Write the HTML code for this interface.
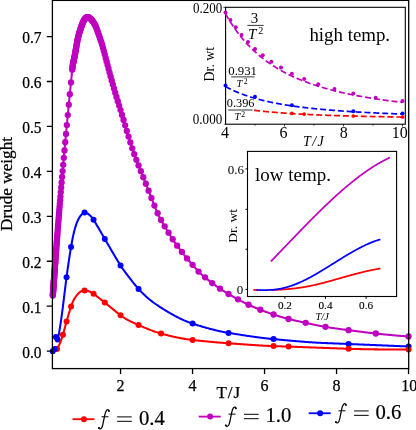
<!DOCTYPE html><html><head><meta charset="utf-8"><style>html,body{margin:0;padding:0;background:#fff}svg{display:block;will-change:transform}</style></head><body><svg width="416" height="430" viewBox="0 0 416 430">
<rect width="416" height="430" fill="#fff"/>
<path d="M52.80,295.60 L53.39,287.54 L53.99,279.48 L54.58,271.43 L55.18,263.40 L55.77,255.46 L56.36,247.67 L56.96,239.94 L57.55,232.28 L58.15,224.72 L58.74,217.27 L59.34,209.90 L59.93,202.60 L60.52,195.41 L61.12,188.38 L61.71,181.47 L62.31,174.67 L62.90,167.95 L63.49,161.28 L64.09,154.68 L64.68,148.15 L65.28,141.69 L65.87,135.31 L66.47,128.99 L67.06,122.73 L67.65,116.50 L68.25,110.30 L68.84,104.18 L69.44,98.13 L70.03,92.08 L70.62,86.04 L71.22,79.99 L71.81,73.94 L72.41,68.04 L73.00,63.83 L73.60,60.97 L74.19,58.51 L74.78,55.52 L75.38,52.11 L75.97,48.68 L76.57,45.27 L77.16,41.92 L77.75,38.86 L78.35,36.28 L78.94,34.07 L79.54,32.10 L80.13,30.24 L80.73,28.40 L81.32,26.63 L81.91,24.98 L82.51,23.45 L83.10,22.07 L83.70,20.86 L84.29,19.81 L84.88,18.94 L85.48,18.24 L86.07,17.71 L86.67,17.36 L87.26,17.19 L87.86,17.21 L88.45,17.36 L89.04,17.60 L89.64,17.94 L90.23,18.38 L90.83,18.93 L91.42,19.58 L92.01,20.34 L92.61,21.18 L93.20,22.03 L93.80,22.91 L94.39,23.85 L94.99,24.90 L95.58,26.09 L96.17,27.45 L96.77,29.01 L97.36,30.70 L97.96,32.40 L98.55,34.10 L99.14,35.80 L99.74,37.50 L100.33,39.20 L100.93,40.91 L101.52,42.67 L102.12,44.63 L102.71,46.74 L103.30,48.96 L103.90,51.20 L104.49,53.41 L105.09,55.63 L105.68,57.86 L106.27,60.11 L106.87,62.37 L107.46,64.63 L108.06,66.89 L108.65,69.14 L109.24,71.37 L109.84,73.58 L110.43,75.76 L111.03,77.92 L111.62,80.07 L112.22,82.21 L112.81,84.33 L113.40,86.44 L114.00,88.53 L114.59,90.60 L115.19,92.65 L115.78,94.66 L116.37,96.65 L116.97,98.60 L117.56,100.52 L118.16,102.43 L118.75,104.33 L119.35,106.23 L119.94,108.13 L120.53,110.04 L121.13,111.98 L121.72,113.92 L122.32,115.89 L122.91,117.86 L123.50,119.84 L124.10,121.82 L124.69,123.81 L125.29,125.80 L125.88,127.79 L126.48,129.77 L127.07,131.75 L127.66,133.71 L128.26,135.67 L128.85,137.61 L129.45,139.53 L130.04,141.43 L130.63,143.31 L131.23,145.17 L131.82,147.00 L132.42,148.80 L133.01,150.57 L133.61,152.30 L134.20,154.00 L134.79,155.66 L135.39,157.27 L135.98,158.86 L136.58,160.42 L137.17,161.95 L137.76,163.45 L138.36,164.95 L138.95,166.43 L139.55,167.90 L140.14,169.37 L140.74,170.83 L141.33,172.30 L141.92,173.78 L142.52,175.28 L143.11,176.79 L143.71,178.30 L144.30,179.82 L144.89,181.33 L145.49,182.85 L146.08,184.37 L146.68,185.88 L147.27,187.40 L147.87,188.91 L148.46,190.43 L149.05,191.94 L149.65,193.46 L150.24,194.97 L150.84,196.48 L151.43,197.99 L152.02,199.50 L152.62,201.01 L153.21,202.52 L153.81,204.03 L154.40,205.53 L154.99,207.03 L155.59,208.52 L156.18,209.95 L156.78,211.33 L157.37,212.66 L157.97,213.94 L158.56,215.19 L159.15,216.39 L159.75,217.56 L160.34,218.70 L160.94,219.81 L161.53,220.89 L162.12,221.95 L162.72,222.99 L163.31,224.01 L163.91,225.02 L164.50,226.01 L165.10,227.00 L165.69,227.99 L166.28,228.97 L166.88,229.95 L167.47,230.93 L168.07,231.90 L168.66,232.88 L169.25,233.84 L169.85,234.80 L170.44,235.75 L171.04,236.69 L171.63,237.63 L172.23,238.55 L172.82,239.46 L173.41,240.37 L174.01,241.25 L174.60,242.13 L175.20,242.99 L175.79,243.83 L176.38,244.66 L176.98,245.47 L177.57,246.27 L178.17,247.07 L178.76,247.86 L179.36,248.65 L179.95,249.43 L180.54,250.21 L181.14,250.99 L181.73,251.76 L182.33,252.52 L182.92,253.29 L183.51,254.06 L184.11,254.82 L184.70,255.59 L185.30,256.34 L185.89,257.09 L186.49,257.82 L187.08,258.54 L187.67,259.24 L188.27,259.93 L188.86,260.62 L189.46,261.30 L190.05,261.98 L190.64,262.65 L191.24,263.33 L191.83,264.00 L192.43,264.68 L193.02,265.35 L193.62,266.03 L194.21,266.71 L194.80,267.39 L195.40,268.06 L195.99,268.73 L196.59,269.40 L197.18,270.06 L197.77,270.72 L198.37,271.37 L198.96,271.99 L199.56,272.59 L200.15,273.16 L200.75,273.70 L201.34,274.23 L201.93,274.74 L202.53,275.24 L203.12,275.74 L203.72,276.22 L204.31,276.71 L204.90,277.20 L205.50,277.70 L206.09,278.19 L206.69,278.68 L207.28,279.17 L207.87,279.66 L208.47,280.14 L209.06,280.62 L209.66,281.10 L210.25,281.57 L210.85,282.04 L211.44,282.50 L212.03,282.96 L212.63,283.41 L213.22,283.86 L213.82,284.30 L214.41,284.75 L215.00,285.18 L215.60,285.62 L216.19,286.05 L216.79,286.47 L217.38,286.89 L217.98,287.30 L218.57,287.71 L219.16,288.11 L219.76,288.50 L220.35,288.90 L220.95,289.28 L221.54,289.67 L222.13,290.05 L222.73,290.43 L223.32,290.81 L223.92,291.18 L224.51,291.55 L225.11,291.92 L225.70,292.29 L226.29,292.65 L226.89,293.01 L227.48,293.36 L228.08,293.72 L228.67,294.07 L229.26,294.41 L229.86,294.76 L230.45,295.10 L231.05,295.45 L231.64,295.79 L232.24,296.13 L232.83,296.47 L233.42,296.80 L234.02,297.14 L234.61,297.47 L235.21,297.80 L235.80,298.13 L236.39,298.46 L236.99,298.79 L237.58,299.12 L238.18,299.44 L238.77,299.77 L239.37,300.09 L239.96,300.41 L240.55,300.72 L241.15,301.04 L241.74,301.35 L242.34,301.67 L242.93,301.98 L243.52,302.28 L244.12,302.59 L244.71,302.89 L245.31,303.19 L245.90,303.49 L246.50,303.78 L247.09,304.07 L247.68,304.36 L248.28,304.64 L248.87,304.92 L249.47,305.20 L250.06,305.47 L250.65,305.74 L251.25,306.01 L251.84,306.27 L252.44,306.53 L253.03,306.79 L253.63,307.04 L254.22,307.29 L254.81,307.54 L255.41,307.79 L256.00,308.03 L256.60,308.28 L257.19,308.52 L257.78,308.75 L258.38,308.99 L258.97,309.22 L259.57,309.45 L260.16,309.68 L260.75,309.91 L261.35,310.14 L261.94,310.37 L262.54,310.59 L263.13,310.82 L263.73,311.04 L264.32,311.26 L264.91,311.48 L265.51,311.70 L266.10,311.92 L266.70,312.14 L267.29,312.35 L267.88,312.56 L268.48,312.78 L269.07,312.99 L269.67,313.19 L270.26,313.40 L270.86,313.61 L271.45,313.81 L272.04,314.01 L272.64,314.21 L273.23,314.41 L273.83,314.61 L274.42,314.80 L275.01,315.00 L275.61,315.19 L276.20,315.39 L276.80,315.58 L277.39,315.77 L277.99,315.96 L278.58,316.15 L279.17,316.34 L279.77,316.52 L280.36,316.70 L280.96,316.89 L281.55,317.06 L282.14,317.24 L282.74,317.42 L283.33,317.59 L283.93,317.76 L284.52,317.93 L285.12,318.09 L285.71,318.25 L286.30,318.41 L286.90,318.57 L287.49,318.72 L288.09,318.87 L288.68,319.02 L289.27,319.16 L289.87,319.31 L290.46,319.45 L291.06,319.59 L291.65,319.73 L292.25,319.87 L292.84,320.01 L293.43,320.15 L294.03,320.29 L294.62,320.42 L295.22,320.56 L295.81,320.70 L296.40,320.83 L297.00,320.96 L297.59,321.10 L298.19,321.23 L298.78,321.36 L299.38,321.49 L299.97,321.62 L300.56,321.75 L301.16,321.88 L301.75,322.01 L302.35,322.14 L302.94,322.27 L303.53,322.40 L304.13,322.53 L304.72,322.65 L305.32,322.78 L305.91,322.91 L306.51,323.04 L307.10,323.17 L307.69,323.29 L308.29,323.42 L308.88,323.55 L309.48,323.68 L310.07,323.81 L310.66,323.94 L311.26,324.06 L311.85,324.19 L312.45,324.32 L313.04,324.45 L313.63,324.57 L314.23,324.70 L314.82,324.82 L315.42,324.95 L316.01,325.07 L316.61,325.19 L317.20,325.32 L317.79,325.44 L318.39,325.56 L318.98,325.67 L319.58,325.79 L320.17,325.91 L320.76,326.02 L321.36,326.13 L321.95,326.24 L322.55,326.35 L323.14,326.46 L323.74,326.57 L324.33,326.67 L324.92,326.77 L325.52,326.87 L326.11,326.97 L326.71,327.07 L327.30,327.17 L327.89,327.26 L328.49,327.36 L329.08,327.45 L329.68,327.55 L330.27,327.64 L330.87,327.73 L331.46,327.82 L332.05,327.91 L332.65,328.00 L333.24,328.08 L333.84,328.17 L334.43,328.26 L335.02,328.34 L335.62,328.43 L336.21,328.51 L336.81,328.59 L337.40,328.67 L338.00,328.76 L338.59,328.84 L339.18,328.92 L339.78,329.00 L340.37,329.08 L340.97,329.16 L341.56,329.24 L342.15,329.32 L342.75,329.40 L343.34,329.47 L343.94,329.55 L344.53,329.63 L345.13,329.71 L345.72,329.79 L346.31,329.86 L346.91,329.94 L347.50,330.02 L348.10,330.10 L348.69,330.17 L349.28,330.25 L349.88,330.33 L350.47,330.41 L351.07,330.48 L351.66,330.56 L352.26,330.64 L352.85,330.71 L353.44,330.79 L354.04,330.87 L354.63,330.95 L355.23,331.02 L355.82,331.10 L356.41,331.17 L357.01,331.25 L357.60,331.33 L358.20,331.40 L358.79,331.48 L359.38,331.55 L359.98,331.63 L360.57,331.70 L361.17,331.78 L361.76,331.85 L362.36,331.93 L362.95,332.00 L363.54,332.08 L364.14,332.15 L364.73,332.22 L365.33,332.30 L365.92,332.37 L366.51,332.44 L367.11,332.51 L367.70,332.58 L368.30,332.66 L368.89,332.73 L369.49,332.80 L370.08,332.87 L370.67,332.94 L371.27,333.01 L371.86,333.08 L372.46,333.14 L373.05,333.21 L373.64,333.28 L374.24,333.35 L374.83,333.41 L375.43,333.48 L376.02,333.55 L376.62,333.61 L377.21,333.68 L377.80,333.74 L378.40,333.81 L378.99,333.87 L379.59,333.93 L380.18,333.99 L380.77,334.06 L381.37,334.12 L381.96,334.18 L382.56,334.24 L383.15,334.30 L383.75,334.36 L384.34,334.42 L384.93,334.48 L385.53,334.53 L386.12,334.59 L386.72,334.65 L387.31,334.71 L387.90,334.76 L388.50,334.82 L389.09,334.87 L389.69,334.93 L390.28,334.98 L390.88,335.04 L391.47,335.09 L392.06,335.15 L392.66,335.20 L393.25,335.25 L393.85,335.30 L394.44,335.36 L395.03,335.41 L395.63,335.46 L396.22,335.51 L396.82,335.56 L397.41,335.61 L398.01,335.66 L398.60,335.71 L399.19,335.76 L399.79,335.81 L400.38,335.86 L400.98,335.90 L401.57,335.95 L402.16,336.00 L402.76,336.05 L403.35,336.09 L403.95,336.14 L404.54,336.18 L405.14,336.23 L405.73,336.28 L406.32,336.32 L406.92,336.37 L407.51,336.41 L408.11,336.46 L408.70,336.50" fill="none" stroke="#bf00bf" stroke-width="2.05" stroke-linejoin="round"/>
<g fill="#bf00bf"><circle cx="408.55" cy="336.49" r="3.15"/><circle cx="375.82" cy="333.52" r="3.15"/><circle cx="348.55" cy="330.15" r="3.15"/><circle cx="325.47" cy="326.87" r="3.15"/><circle cx="305.69" cy="322.86" r="3.15"/><circle cx="288.55" cy="318.99" r="3.15"/><circle cx="273.55" cy="314.52" r="3.15"/><circle cx="260.31" cy="309.74" r="3.15"/><circle cx="248.55" cy="304.77" r="3.15"/><circle cx="238.02" cy="299.36" r="3.15"/><circle cx="228.55" cy="293.99" r="3.15"/><circle cx="219.98" cy="288.65" r="3.15"/><circle cx="212.19" cy="283.07" r="3.15"/><circle cx="205.07" cy="277.34" r="3.15"/><circle cx="198.55" cy="271.56" r="3.15"/><circle cx="192.55" cy="264.82" r="3.15"/><circle cx="187.01" cy="258.46" r="3.15"/><circle cx="181.88" cy="251.95" r="3.15"/><circle cx="177.12" cy="245.66" r="3.15"/><circle cx="172.69" cy="239.26" r="3.15"/><circle cx="168.55" cy="232.69" r="3.15"/><circle cx="164.68" cy="226.31" r="3.15"/><circle cx="161.05" cy="220.02" r="3.15"/><circle cx="157.64" cy="213.25" r="3.15"/><circle cx="154.43" cy="205.61" r="3.15"/><circle cx="151.41" cy="197.93" r="3.15"/><circle cx="148.55" cy="190.66" r="3.15"/><circle cx="145.85" cy="183.77" r="3.15"/><circle cx="143.29" cy="177.23" r="3.15"/><circle cx="140.86" cy="171.13" r="3.15"/><circle cx="138.55" cy="165.43" r="3.15"/><circle cx="136.35" cy="159.84" r="3.15"/><circle cx="134.26" cy="154.18" r="3.15"/><circle cx="132.27" cy="148.36" r="3.15"/><circle cx="130.37" cy="142.47" r="3.15"/><circle cx="128.55" cy="136.62" r="3.15"/><circle cx="126.81" cy="130.89" r="3.15"/><circle cx="125.15" cy="125.33" r="3.15"/><circle cx="123.55" cy="119.99" r="3.15"/><circle cx="122.02" cy="114.90" r="3.15"/><circle cx="120.55" cy="110.10" r="3.15"/><circle cx="119.14" cy="105.56" r="3.15"/><circle cx="117.78" cy="101.22" r="3.15"/><circle cx="116.47" cy="96.98" r="3.15"/><circle cx="115.22" cy="92.75" r="3.15"/><circle cx="114.00" cy="88.56" r="3.15"/><circle cx="112.84" cy="84.42" r="3.15"/><circle cx="111.71" cy="80.38" r="3.15"/><circle cx="110.62" cy="76.43" r="3.15"/><circle cx="109.57" cy="72.57" r="3.15"/><circle cx="108.55" cy="68.76" r="3.15"/><circle cx="107.57" cy="65.03" r="3.15"/><circle cx="106.61" cy="61.41" r="3.15"/><circle cx="105.69" cy="57.91" r="3.15"/><circle cx="104.80" cy="54.56" r="3.15"/><circle cx="103.93" cy="51.34" r="3.15"/><circle cx="103.10" cy="48.18" r="3.15"/><circle cx="102.28" cy="45.21" r="3.15"/><circle cx="101.49" cy="42.58" r="3.15"/><circle cx="100.72" cy="40.32" r="3.15"/><circle cx="99.98" cy="38.18" r="3.15"/><circle cx="99.25" cy="36.11" r="3.15"/><circle cx="98.55" cy="34.10" r="3.15"/><circle cx="97.87" cy="32.14" r="3.15"/><circle cx="97.20" cy="30.24" r="3.15"/><circle cx="96.55" cy="28.41" r="3.15"/><circle cx="95.92" cy="26.84" r="3.15"/><circle cx="95.30" cy="25.52" r="3.15"/><circle cx="94.70" cy="24.39" r="3.15"/><circle cx="94.12" cy="23.41" r="3.15"/><circle cx="93.55" cy="22.53" r="3.15"/><circle cx="92.99" cy="21.73" r="3.15"/><circle cx="92.45" cy="20.96" r="3.15"/><circle cx="91.92" cy="20.22" r="3.15"/><circle cx="91.41" cy="19.56" r="3.15"/><circle cx="90.90" cy="19.01" r="3.15"/><circle cx="90.41" cy="18.54" r="3.15"/><circle cx="89.93" cy="18.15" r="3.15"/><circle cx="89.46" cy="17.83" r="3.15"/><circle cx="89.00" cy="17.58" r="3.15"/><circle cx="88.55" cy="17.39" r="3.15"/><circle cx="88.11" cy="17.26" r="3.15"/><circle cx="87.68" cy="17.19" r="3.15"/><circle cx="87.26" cy="17.19" r="3.15"/><circle cx="86.85" cy="17.29" r="3.15"/><circle cx="86.44" cy="17.47" r="3.15"/><circle cx="86.05" cy="17.73" r="3.15"/><circle cx="85.66" cy="18.05" r="3.15"/><circle cx="85.28" cy="18.45" r="3.15"/><circle cx="84.91" cy="18.90" r="3.15"/><circle cx="84.55" cy="19.41" r="3.15"/><circle cx="84.19" cy="19.97" r="3.15"/><circle cx="83.84" cy="20.58" r="3.15"/><circle cx="83.50" cy="21.24" r="3.15"/><circle cx="83.17" cy="21.93" r="3.15"/><circle cx="82.84" cy="22.67" r="3.15"/><circle cx="82.51" cy="23.44" r="3.15"/><circle cx="82.19" cy="24.24" r="3.15"/><circle cx="81.88" cy="25.06" r="3.15"/><circle cx="81.58" cy="25.90" r="3.15"/><circle cx="81.28" cy="26.75" r="3.15"/><circle cx="80.98" cy="27.62" r="3.15"/><circle cx="80.69" cy="28.50" r="3.15"/><circle cx="80.41" cy="29.39" r="3.15"/><circle cx="80.13" cy="30.25" r="3.15"/><circle cx="79.85" cy="31.10" r="3.15"/><circle cx="79.58" cy="31.95" r="3.15"/><circle cx="79.32" cy="32.80" r="3.15"/><circle cx="79.06" cy="33.67" r="3.15"/><circle cx="78.80" cy="34.57" r="3.15"/><circle cx="78.55" cy="35.50" r="3.15"/><circle cx="78.30" cy="36.47" r="3.15"/><circle cx="78.06" cy="37.49" r="3.15"/><circle cx="77.82" cy="38.56" r="3.15"/><circle cx="77.58" cy="39.69" r="3.15"/><circle cx="77.35" cy="40.88" r="3.15"/><circle cx="77.12" cy="42.14" r="3.15"/><circle cx="76.90" cy="43.40" r="3.15"/><circle cx="76.68" cy="44.65" r="3.15"/><circle cx="76.46" cy="45.90" r="3.15"/><circle cx="76.24" cy="47.13" r="3.15"/><circle cx="76.03" cy="48.34" r="3.15"/><circle cx="75.82" cy="49.55" r="3.15"/><circle cx="75.62" cy="50.73" r="3.15"/><circle cx="75.42" cy="51.90" r="3.15"/><circle cx="75.22" cy="53.04" r="3.15"/><circle cx="75.02" cy="54.17" r="3.15"/><circle cx="74.83" cy="55.27" r="3.15"/><circle cx="74.64" cy="56.35" r="3.15"/><circle cx="74.45" cy="57.32" r="3.15"/><circle cx="74.26" cy="58.18" r="3.15"/><circle cx="74.08" cy="58.96" r="3.15"/><circle cx="73.90" cy="59.71" r="3.15"/><circle cx="73.72" cy="60.43" r="3.15"/><circle cx="73.55" cy="61.16" r="3.15"/><circle cx="73.38" cy="61.92" r="3.15"/><circle cx="73.21" cy="62.73" r="3.15"/><circle cx="73.04" cy="63.62" r="3.15"/><circle cx="72.87" cy="64.59" r="3.15"/><circle cx="72.71" cy="65.66" r="3.15"/><circle cx="72.55" cy="66.86" r="3.15"/><circle cx="72.39" cy="68.18" r="3.15"/><circle cx="72.23" cy="69.66" r="3.15"/><circle cx="70.98" cy="82.40" r="3.15"/><circle cx="69.82" cy="94.20" r="3.15"/><circle cx="68.79" cy="104.70" r="3.15"/><circle cx="67.79" cy="115.10" r="3.15"/><circle cx="66.83" cy="125.10" r="3.15"/><circle cx="66.00" cy="133.90" r="3.15"/><circle cx="65.23" cy="142.20" r="3.15"/><circle cx="64.47" cy="150.50" r="3.15"/><circle cx="63.81" cy="157.80" r="3.15"/><circle cx="63.18" cy="164.80" r="3.15"/><circle cx="62.62" cy="171.10" r="3.15"/><circle cx="62.10" cy="177.00" r="3.15"/><circle cx="61.63" cy="182.40" r="3.15"/><circle cx="61.20" cy="187.40" r="3.15"/><circle cx="60.80" cy="192.10" r="3.15"/><circle cx="60.43" cy="196.50" r="3.15"/><circle cx="60.12" cy="200.30" r="3.15"/><circle cx="59.85" cy="203.60" r="3.15"/><circle cx="59.60" cy="206.60" r="3.15"/><circle cx="59.37" cy="209.51" r="3.15"/><circle cx="59.14" cy="212.33" r="3.15"/><circle cx="58.92" cy="215.07" r="3.15"/><circle cx="58.70" cy="217.73" r="3.15"/><circle cx="58.50" cy="220.30" r="3.15"/><circle cx="58.30" cy="222.80" r="3.15"/><circle cx="58.11" cy="225.23" r="3.15"/><circle cx="57.92" cy="227.58" r="3.15"/><circle cx="57.74" cy="229.86" r="3.15"/><circle cx="57.57" cy="232.07" r="3.15"/><circle cx="57.40" cy="234.22" r="3.15"/><circle cx="57.24" cy="236.30" r="3.15"/><circle cx="57.08" cy="238.32" r="3.15"/><circle cx="56.93" cy="240.27" r="3.15"/><circle cx="56.79" cy="242.17" r="3.15"/><circle cx="56.65" cy="244.02" r="3.15"/><circle cx="56.51" cy="245.80" r="3.15"/><circle cx="56.38" cy="247.54" r="3.15"/><circle cx="56.25" cy="249.22" r="3.15"/><circle cx="56.12" cy="250.85" r="3.15"/><circle cx="56.00" cy="252.43" r="3.15"/><circle cx="55.88" cy="253.97" r="3.15"/><circle cx="55.77" cy="255.46" r="3.15"/><circle cx="55.66" cy="256.90" r="3.15"/><circle cx="55.56" cy="258.30" r="3.15"/><circle cx="55.45" cy="259.66" r="3.15"/><circle cx="55.36" cy="260.98" r="3.15"/><circle cx="55.26" cy="262.26" r="3.15"/><circle cx="55.17" cy="263.50" r="3.15"/><circle cx="55.08" cy="264.70" r="3.15"/><circle cx="54.99" cy="265.87" r="3.15"/><circle cx="54.91" cy="267.00" r="3.15"/><circle cx="54.83" cy="268.10" r="3.15"/><circle cx="54.75" cy="269.16" r="3.15"/><circle cx="54.67" cy="270.20" r="3.15"/><circle cx="54.60" cy="271.20" r="3.15"/><circle cx="54.53" cy="272.17" r="3.15"/><circle cx="54.46" cy="273.11" r="3.15"/><circle cx="54.39" cy="274.03" r="3.15"/><circle cx="54.33" cy="274.92" r="3.15"/><circle cx="54.26" cy="275.78" r="3.15"/><circle cx="54.20" cy="276.61" r="3.15"/><circle cx="54.14" cy="277.42" r="3.15"/><circle cx="54.08" cy="278.22" r="3.15"/><circle cx="54.02" cy="279.02" r="3.15"/><circle cx="53.96" cy="279.82" r="3.15"/><circle cx="53.90" cy="280.62" r="3.15"/><circle cx="53.85" cy="281.42" r="3.15"/><circle cx="53.79" cy="282.22" r="3.15"/><circle cx="53.73" cy="283.02" r="3.15"/><circle cx="53.67" cy="283.82" r="3.15"/><circle cx="53.61" cy="284.62" r="3.15"/><circle cx="53.55" cy="285.42" r="3.15"/><circle cx="53.49" cy="286.22" r="3.15"/><circle cx="53.43" cy="287.02" r="3.15"/><circle cx="53.37" cy="287.82" r="3.15"/><circle cx="53.31" cy="288.62" r="3.15"/><circle cx="53.26" cy="289.42" r="3.15"/><circle cx="53.20" cy="290.22" r="3.15"/><circle cx="53.14" cy="291.02" r="3.15"/><circle cx="53.08" cy="291.82" r="3.15"/><circle cx="53.02" cy="292.62" r="3.15"/><circle cx="52.96" cy="293.42" r="3.15"/><circle cx="52.90" cy="294.22" r="3.15"/><circle cx="52.84" cy="295.02" r="3.15"/><circle cx="52.80" cy="295.60" r="3.15"/></g>
<path d="M56.30,338.00 L57.01,338.48 L57.71,338.06 L58.42,336.27 L59.12,332.70 L59.83,328.43 L60.54,323.88 L61.24,319.05 L61.95,313.94 L62.66,308.56 L63.36,302.94 L64.07,297.16 L64.77,291.33 L65.48,285.56 L66.19,279.93 L66.89,274.56 L67.60,269.42 L68.31,264.49 L69.01,259.75 L69.72,255.18 L70.42,250.78 L71.13,246.53 L71.84,242.51 L72.54,238.78 L73.25,235.35 L73.96,232.24 L74.66,229.47 L75.37,227.06 L76.07,224.90 L76.78,222.95 L77.49,221.21 L78.19,219.67 L78.90,218.32 L79.61,217.15 L80.31,216.15 L81.02,215.25 L81.72,214.41 L82.43,213.69 L83.14,213.12 L83.84,212.74 L84.55,212.60 L85.25,212.66 L85.96,212.82 L86.67,213.07 L87.37,213.41 L88.08,213.86 L88.79,214.41 L89.49,215.04 L90.20,215.67 L90.90,216.33 L91.61,217.06 L92.32,217.88 L93.02,218.85 L93.73,219.98 L94.44,221.16 L95.14,222.34 L95.85,223.53 L96.55,224.72 L97.26,225.92 L97.97,227.13 L98.67,228.34 L99.38,229.55 L100.09,230.77 L100.79,231.99 L101.50,233.21 L102.20,234.43 L102.91,235.64 L103.62,236.86 L104.32,238.08 L105.03,239.29 L105.73,240.51 L106.44,241.72 L107.15,242.93 L107.85,244.15 L108.56,245.36 L109.27,246.57 L109.97,247.78 L110.68,248.99 L111.38,250.20 L112.09,251.41 L112.80,252.62 L113.50,253.83 L114.21,255.04 L114.92,256.24 L115.62,257.44 L116.33,258.63 L117.03,259.81 L117.74,260.98 L118.45,262.14 L119.15,263.29 L119.86,264.44 L120.57,265.56 L121.27,266.66 L121.98,267.71 L122.68,268.74 L123.39,269.74 L124.10,270.71 L124.80,271.66 L125.51,272.60 L126.22,273.52 L126.92,274.44 L127.63,275.35 L128.33,276.27 L129.04,277.19 L129.75,278.12 L130.45,279.04 L131.16,279.95 L131.86,280.86 L132.57,281.76 L133.28,282.65 L133.98,283.53 L134.69,284.40 L135.40,285.26 L136.10,286.10 L136.81,286.94 L137.51,287.76 L138.22,288.56 L138.93,289.35 L139.63,290.12 L140.34,290.88 L141.05,291.62 L141.75,292.35 L142.46,293.06 L143.16,293.76 L143.87,294.45 L144.58,295.12 L145.28,295.77 L145.99,296.42 L146.70,297.05 L147.40,297.67 L148.11,298.27 L148.81,298.87 L149.52,299.45 L150.23,300.02 L150.93,300.59 L151.64,301.14 L152.34,301.68 L153.05,302.21 L153.76,302.73 L154.46,303.25 L155.17,303.75 L155.88,304.25 L156.58,304.74 L157.29,305.22 L157.99,305.69 L158.70,306.16 L159.41,306.62 L160.11,307.07 L160.82,307.52 L161.53,307.97 L162.23,308.41 L162.94,308.86 L163.64,309.30 L164.35,309.73 L165.06,310.17 L165.76,310.60 L166.47,311.03 L167.18,311.45 L167.88,311.87 L168.59,312.29 L169.29,312.70 L170.00,313.12 L170.71,313.52 L171.41,313.92 L172.12,314.32 L172.83,314.72 L173.53,315.11 L174.24,315.49 L174.94,315.88 L175.65,316.25 L176.36,316.62 L177.06,316.99 L177.77,317.35 L178.47,317.71 L179.18,318.06 L179.89,318.41 L180.59,318.75 L181.30,319.09 L182.01,319.42 L182.71,319.75 L183.42,320.06 L184.12,320.38 L184.83,320.68 L185.54,320.99 L186.24,321.28 L186.95,321.57 L187.66,321.85 L188.36,322.13 L189.07,322.40 L189.77,322.66 L190.48,322.91 L191.19,323.16 L191.89,323.40 L192.60,323.63 L193.31,323.86 L194.01,324.09 L194.72,324.31 L195.42,324.54 L196.13,324.76 L196.84,324.98 L197.54,325.20 L198.25,325.42 L198.95,325.64 L199.66,325.86 L200.37,326.07 L201.07,326.28 L201.78,326.50 L202.49,326.71 L203.19,326.91 L203.90,327.12 L204.60,327.33 L205.31,327.53 L206.02,327.73 L206.72,327.93 L207.43,328.13 L208.14,328.32 L208.84,328.51 L209.55,328.70 L210.25,328.89 L210.96,329.08 L211.67,329.26 L212.37,329.45 L213.08,329.62 L213.79,329.80 L214.49,329.98 L215.20,330.15 L215.90,330.32 L216.61,330.49 L217.32,330.65 L218.02,330.81 L218.73,330.97 L219.44,331.13 L220.14,331.28 L220.85,331.43 L221.55,331.58 L222.26,331.72 L222.97,331.87 L223.67,332.00 L224.38,332.14 L225.08,332.27 L225.79,332.40 L226.50,332.53 L227.20,332.65 L227.91,332.77 L228.62,332.89 L229.32,333.00 L230.03,333.11 L230.73,333.23 L231.44,333.34 L232.15,333.46 L232.85,333.57 L233.56,333.68 L234.27,333.80 L234.97,333.91 L235.68,334.02 L236.38,334.14 L237.09,334.25 L237.80,334.36 L238.50,334.47 L239.21,334.58 L239.92,334.69 L240.62,334.81 L241.33,334.92 L242.03,335.03 L242.74,335.14 L243.45,335.24 L244.15,335.35 L244.86,335.46 L245.56,335.57 L246.27,335.68 L246.98,335.78 L247.68,335.89 L248.39,335.99 L249.10,336.10 L249.80,336.20 L250.51,336.30 L251.21,336.41 L251.92,336.51 L252.63,336.61 L253.33,336.71 L254.04,336.81 L254.75,336.90 L255.45,337.00 L256.16,337.10 L256.86,337.19 L257.57,337.29 L258.28,337.38 L258.98,337.47 L259.69,337.56 L260.40,337.65 L261.10,337.74 L261.81,337.83 L262.51,337.92 L263.22,338.00 L263.93,338.09 L264.63,338.17 L265.34,338.25 L266.05,338.33 L266.75,338.41 L267.46,338.49 L268.16,338.57 L268.87,338.64 L269.58,338.72 L270.28,338.79 L270.99,338.86 L271.69,338.93 L272.40,339.00 L273.11,339.06 L273.81,339.13 L274.52,339.19 L275.23,339.26 L275.93,339.32 L276.64,339.39 L277.34,339.45 L278.05,339.52 L278.76,339.59 L279.46,339.65 L280.17,339.72 L280.88,339.78 L281.58,339.85 L282.29,339.91 L282.99,339.98 L283.70,340.04 L284.41,340.11 L285.11,340.17 L285.82,340.24 L286.53,340.30 L287.23,340.37 L287.94,340.43 L288.64,340.49 L289.35,340.56 L290.06,340.62 L290.76,340.68 L291.47,340.75 L292.17,340.81 L292.88,340.87 L293.59,340.93 L294.29,340.99 L295.00,341.05 L295.71,341.11 L296.41,341.17 L297.12,341.23 L297.82,341.29 L298.53,341.35 L299.24,341.41 L299.94,341.47 L300.65,341.53 L301.36,341.58 L302.06,341.64 L302.77,341.69 L303.47,341.75 L304.18,341.80 L304.89,341.86 L305.59,341.91 L306.30,341.96 L307.01,342.01 L307.71,342.06 L308.42,342.11 L309.12,342.16 L309.83,342.21 L310.54,342.26 L311.24,342.31 L311.95,342.35 L312.66,342.40 L313.36,342.44 L314.07,342.49 L314.77,342.53 L315.48,342.57 L316.19,342.61 L316.89,342.65 L317.60,342.69 L318.30,342.73 L319.01,342.77 L319.72,342.80 L320.42,342.84 L321.13,342.87 L321.84,342.91 L322.54,342.94 L323.25,342.97 L323.95,343.00 L324.66,343.03 L325.37,343.06 L326.07,343.08 L326.78,343.11 L327.49,343.14 L328.19,343.17 L328.90,343.20 L329.60,343.23 L330.31,343.25 L331.02,343.28 L331.72,343.31 L332.43,343.34 L333.14,343.37 L333.84,343.40 L334.55,343.42 L335.25,343.45 L335.96,343.48 L336.67,343.51 L337.37,343.53 L338.08,343.56 L338.78,343.59 L339.49,343.62 L340.20,343.65 L340.90,343.67 L341.61,343.70 L342.32,343.73 L343.02,343.76 L343.73,343.79 L344.43,343.82 L345.14,343.85 L345.85,343.87 L346.55,343.90 L347.26,343.93 L347.97,343.96 L348.67,343.99 L349.38,344.02 L350.08,344.05 L350.79,344.08 L351.50,344.11 L352.20,344.14 L352.91,344.17 L353.62,344.20 L354.32,344.23 L355.03,344.26 L355.73,344.28 L356.44,344.31 L357.15,344.34 L357.85,344.37 L358.56,344.40 L359.27,344.43 L359.97,344.46 L360.68,344.49 L361.38,344.52 L362.09,344.55 L362.80,344.58 L363.50,344.61 L364.21,344.64 L364.91,344.67 L365.62,344.70 L366.33,344.72 L367.03,344.75 L367.74,344.78 L368.45,344.81 L369.15,344.84 L369.86,344.87 L370.56,344.90 L371.27,344.93 L371.98,344.96 L372.68,344.99 L373.39,345.02 L374.10,345.05 L374.80,345.08 L375.51,345.11 L376.21,345.14 L376.92,345.17 L377.63,345.19 L378.33,345.22 L379.04,345.25 L379.75,345.28 L380.45,345.31 L381.16,345.34 L381.86,345.37 L382.57,345.40 L383.28,345.43 L383.98,345.46 L384.69,345.49 L385.39,345.52 L386.10,345.55 L386.81,345.58 L387.51,345.61 L388.22,345.64 L388.93,345.67 L389.63,345.70 L390.34,345.72 L391.04,345.75 L391.75,345.78 L392.46,345.81 L393.16,345.84 L393.87,345.87 L394.58,345.90 L395.28,345.93 L395.99,345.96 L396.69,345.99 L397.40,346.02 L398.11,346.05 L398.81,346.08 L399.52,346.11 L400.23,346.14 L400.93,346.17 L401.64,346.20 L402.34,346.23 L403.05,346.26 L403.76,346.29 L404.46,346.32 L405.17,346.35 L405.88,346.38 L406.58,346.41 L407.29,346.44 L407.99,346.47 L408.70,346.50" fill="none" stroke="#0000ff" stroke-width="2.05" stroke-linejoin="round"/>
<g fill="#0000ff"><circle cx="66.55" cy="277.13" r="3.0"/><circle cx="71.05" cy="247.00" r="3.0"/><circle cx="84.55" cy="212.60" r="3.0"/><circle cx="93.55" cy="219.68" r="3.0"/><circle cx="104.80" cy="238.90" r="3.0"/><circle cx="120.55" cy="265.54" r="3.0"/><circle cx="138.55" cy="288.93" r="3.0"/><circle cx="192.55" cy="323.62" r="3.0"/><circle cx="228.55" cy="332.88" r="3.0"/><circle cx="273.55" cy="339.10" r="3.0"/><circle cx="348.55" cy="343.99" r="3.0"/><circle cx="408.55" cy="346.49" r="3.0"/><circle cx="55.9" cy="336.9" r="3.0"/><circle cx="57.6" cy="339.6" r="3.0"/></g>
<path d="M57.00,349.00 L57.70,347.78 L58.41,346.47 L59.11,345.05 L59.82,343.51 L60.52,341.83 L61.23,339.99 L61.93,337.97 L62.64,335.76 L63.34,333.34 L64.05,330.78 L64.75,328.13 L65.46,325.47 L66.16,322.86 L66.87,320.36 L67.57,317.91 L68.28,315.50 L68.98,313.13 L69.69,310.81 L70.39,308.57 L71.10,306.41 L71.80,304.42 L72.51,302.64 L73.21,301.04 L73.92,299.62 L74.62,298.36 L75.33,297.23 L76.03,296.22 L76.73,295.32 L77.44,294.49 L78.14,293.73 L78.85,293.02 L79.55,292.38 L80.26,291.81 L80.96,291.33 L81.67,290.94 L82.37,290.64 L83.08,290.45 L83.78,290.36 L84.49,290.40 L85.19,290.50 L85.90,290.62 L86.60,290.75 L87.31,290.90 L88.01,291.07 L88.72,291.27 L89.42,291.50 L90.13,291.78 L90.83,292.09 L91.54,292.45 L92.24,292.86 L92.95,293.32 L93.65,293.84 L94.35,294.39 L95.06,294.93 L95.76,295.48 L96.47,296.03 L97.17,296.58 L97.88,297.13 L98.58,297.69 L99.29,298.24 L99.99,298.79 L100.70,299.35 L101.40,299.90 L102.11,300.46 L102.81,301.02 L103.52,301.58 L104.22,302.14 L104.93,302.70 L105.63,303.27 L106.34,303.83 L107.04,304.40 L107.75,304.98 L108.45,305.55 L109.16,306.13 L109.86,306.70 L110.57,307.28 L111.27,307.86 L111.98,308.43 L112.68,309.01 L113.38,309.59 L114.09,310.16 L114.79,310.73 L115.50,311.31 L116.20,311.88 L116.91,312.44 L117.61,313.01 L118.32,313.57 L119.02,314.12 L119.73,314.68 L120.43,315.23 L121.14,315.76 L121.84,316.28 L122.55,316.78 L123.25,317.26 L123.96,317.72 L124.66,318.17 L125.37,318.60 L126.07,319.02 L126.78,319.43 L127.48,319.82 L128.19,320.20 L128.89,320.57 L129.60,320.94 L130.30,321.29 L131.01,321.63 L131.71,321.97 L132.41,322.30 L133.12,322.62 L133.82,322.94 L134.53,323.26 L135.23,323.57 L135.94,323.88 L136.64,324.19 L137.35,324.50 L138.05,324.81 L138.76,325.13 L139.46,325.44 L140.17,325.75 L140.87,326.06 L141.58,326.36 L142.28,326.67 L142.99,326.97 L143.69,327.27 L144.40,327.57 L145.10,327.87 L145.81,328.16 L146.51,328.45 L147.22,328.74 L147.92,329.02 L148.63,329.30 L149.33,329.58 L150.03,329.86 L150.74,330.13 L151.44,330.39 L152.15,330.66 L152.85,330.91 L153.56,331.17 L154.26,331.42 L154.97,331.66 L155.67,331.90 L156.38,332.13 L157.08,332.36 L157.79,332.58 L158.49,332.80 L159.20,333.01 L159.90,333.22 L160.61,333.42 L161.31,333.61 L162.02,333.81 L162.72,334.00 L163.43,334.18 L164.13,334.37 L164.84,334.56 L165.54,334.74 L166.25,334.92 L166.95,335.10 L167.66,335.28 L168.36,335.46 L169.06,335.63 L169.77,335.81 L170.47,335.98 L171.18,336.15 L171.88,336.31 L172.59,336.48 L173.29,336.64 L174.00,336.80 L174.70,336.95 L175.41,337.11 L176.11,337.26 L176.82,337.41 L177.52,337.56 L178.23,337.70 L178.93,337.84 L179.64,337.98 L180.34,338.12 L181.05,338.25 L181.75,338.38 L182.46,338.51 L183.16,338.63 L183.87,338.75 L184.57,338.87 L185.28,338.98 L185.98,339.10 L186.68,339.20 L187.39,339.31 L188.09,339.41 L188.80,339.51 L189.50,339.60 L190.21,339.70 L190.91,339.78 L191.62,339.87 L192.32,339.95 L193.03,340.02 L193.73,340.10 L194.44,340.18 L195.14,340.25 L195.85,340.33 L196.55,340.40 L197.26,340.48 L197.96,340.55 L198.67,340.62 L199.37,340.70 L200.08,340.77 L200.78,340.84 L201.49,340.92 L202.19,340.99 L202.90,341.06 L203.60,341.13 L204.31,341.20 L205.01,341.27 L205.71,341.34 L206.42,341.41 L207.12,341.48 L207.83,341.55 L208.53,341.62 L209.24,341.68 L209.94,341.75 L210.65,341.82 L211.35,341.88 L212.06,341.95 L212.76,342.01 L213.47,342.08 L214.17,342.14 L214.88,342.20 L215.58,342.27 L216.29,342.33 L216.99,342.39 L217.70,342.45 L218.40,342.51 L219.11,342.57 L219.81,342.63 L220.52,342.68 L221.22,342.74 L221.93,342.80 L222.63,342.85 L223.34,342.91 L224.04,342.96 L224.74,343.02 L225.45,343.07 L226.15,343.12 L226.86,343.17 L227.56,343.22 L228.27,343.27 L228.97,343.32 L229.68,343.37 L230.38,343.42 L231.09,343.47 L231.79,343.51 L232.50,343.56 L233.20,343.61 L233.91,343.66 L234.61,343.71 L235.32,343.76 L236.02,343.82 L236.73,343.87 L237.43,343.92 L238.14,343.97 L238.84,344.02 L239.55,344.07 L240.25,344.12 L240.96,344.17 L241.66,344.22 L242.36,344.27 L243.07,344.32 L243.77,344.37 L244.48,344.42 L245.18,344.47 L245.89,344.52 L246.59,344.57 L247.30,344.62 L248.00,344.67 L248.71,344.72 L249.41,344.77 L250.12,344.82 L250.82,344.86 L251.53,344.91 L252.23,344.96 L252.94,345.00 L253.64,345.05 L254.35,345.10 L255.05,345.14 L255.76,345.19 L256.46,345.23 L257.17,345.28 L257.87,345.32 L258.58,345.36 L259.28,345.40 L259.99,345.45 L260.69,345.49 L261.39,345.53 L262.10,345.57 L262.80,345.61 L263.51,345.65 L264.21,345.68 L264.92,345.72 L265.62,345.76 L266.33,345.79 L267.03,345.83 L267.74,345.86 L268.44,345.89 L269.15,345.92 L269.85,345.95 L270.56,345.98 L271.26,346.01 L271.97,346.04 L272.67,346.07 L273.38,346.10 L274.08,346.12 L274.79,346.15 L275.49,346.17 L276.20,346.19 L276.90,346.22 L277.61,346.24 L278.31,346.26 L279.02,346.29 L279.72,346.31 L280.42,346.33 L281.13,346.35 L281.83,346.38 L282.54,346.40 L283.24,346.42 L283.95,346.44 L284.65,346.47 L285.36,346.49 L286.06,346.51 L286.77,346.54 L287.47,346.56 L288.18,346.59 L288.88,346.61 L289.59,346.63 L290.29,346.66 L291.00,346.68 L291.70,346.71 L292.41,346.73 L293.11,346.76 L293.82,346.78 L294.52,346.81 L295.23,346.84 L295.93,346.86 L296.64,346.89 L297.34,346.91 L298.04,346.94 L298.75,346.96 L299.45,346.99 L300.16,347.02 L300.86,347.04 L301.57,347.07 L302.27,347.09 L302.98,347.12 L303.68,347.15 L304.39,347.17 L305.09,347.20 L305.80,347.22 L306.50,347.25 L307.21,347.28 L307.91,347.30 L308.62,347.33 L309.32,347.36 L310.03,347.38 L310.73,347.41 L311.44,347.44 L312.14,347.46 L312.85,347.49 L313.55,347.52 L314.26,347.54 L314.96,347.57 L315.67,347.59 L316.37,347.62 L317.07,347.65 L317.78,347.67 L318.48,347.70 L319.19,347.73 L319.89,347.75 L320.60,347.78 L321.30,347.81 L322.01,347.83 L322.71,347.86 L323.42,347.89 L324.12,347.91 L324.83,347.94 L325.53,347.96 L326.24,347.99 L326.94,348.02 L327.65,348.04 L328.35,348.07 L329.06,348.10 L329.76,348.12 L330.47,348.15 L331.17,348.17 L331.88,348.20 L332.58,348.23 L333.29,348.25 L333.99,348.28 L334.69,348.30 L335.40,348.33 L336.10,348.35 L336.81,348.38 L337.51,348.40 L338.22,348.43 L338.92,348.45 L339.63,348.48 L340.33,348.50 L341.04,348.53 L341.74,348.55 L342.45,348.58 L343.15,348.60 L343.86,348.63 L344.56,348.65 L345.27,348.68 L345.97,348.70 L346.68,348.72 L347.38,348.75 L348.09,348.77 L348.79,348.80 L349.50,348.82 L350.20,348.84 L350.91,348.87 L351.61,348.89 L352.32,348.91 L353.02,348.93 L353.72,348.95 L354.43,348.97 L355.13,348.99 L355.84,349.01 L356.54,349.03 L357.25,349.04 L357.95,349.06 L358.66,349.08 L359.36,349.10 L360.07,349.11 L360.77,349.13 L361.48,349.14 L362.18,349.16 L362.89,349.17 L363.59,349.19 L364.30,349.20 L365.00,349.22 L365.71,349.23 L366.41,349.24 L367.12,349.25 L367.82,349.27 L368.53,349.28 L369.23,349.29 L369.94,349.30 L370.64,349.31 L371.35,349.32 L372.05,349.33 L372.75,349.34 L373.46,349.35 L374.16,349.36 L374.87,349.36 L375.57,349.37 L376.28,349.38 L376.98,349.39 L377.69,349.39 L378.39,349.40 L379.10,349.41 L379.80,349.41 L380.51,349.42 L381.21,349.43 L381.92,349.43 L382.62,349.44 L383.33,349.44 L384.03,349.45 L384.74,349.45 L385.44,349.46 L386.15,349.46 L386.85,349.46 L387.56,349.47 L388.26,349.47 L388.97,349.47 L389.67,349.48 L390.37,349.48 L391.08,349.48 L391.78,349.48 L392.49,349.49 L393.19,349.49 L393.90,349.49 L394.60,349.49 L395.31,349.49 L396.01,349.50 L396.72,349.50 L397.42,349.50 L398.13,349.50 L398.83,349.50 L399.54,349.50 L400.24,349.50 L400.95,349.50 L401.65,349.50 L402.36,349.50 L403.06,349.50 L403.77,349.50 L404.47,349.50 L405.18,349.50 L405.88,349.50 L406.59,349.50 L407.29,349.50 L408.00,349.50 L408.70,349.50" fill="none" stroke="#ff0000" stroke-width="2.05" stroke-linejoin="round"/>
<g fill="#ff0000"><circle cx="57.00" cy="349.00" r="3.0"/><circle cx="62.95" cy="334.72" r="3.0"/><circle cx="66.55" cy="321.48" r="3.0"/><circle cx="71.05" cy="306.55" r="3.0"/><circle cx="84.55" cy="290.41" r="3.0"/><circle cx="93.55" cy="293.76" r="3.0"/><circle cx="104.80" cy="302.60" r="3.0"/><circle cx="120.55" cy="315.32" r="3.0"/><circle cx="138.55" cy="325.03" r="3.0"/><circle cx="161.05" cy="333.54" r="3.0"/><circle cx="192.55" cy="339.97" r="3.0"/><circle cx="228.55" cy="343.29" r="3.0"/><circle cx="273.55" cy="346.10" r="3.0"/><circle cx="288.55" cy="346.60" r="3.0"/><circle cx="348.55" cy="348.79" r="3.0"/><circle cx="408.55" cy="349.50" r="3.0"/></g>
<g fill="#0000ff"><circle cx="54.7" cy="349.0" r="3.0"/><circle cx="52.7" cy="351.3" r="3.0"/></g>
<rect x="52.4" y="0.4" width="356.3" height="368.20000000000005" fill="none" stroke="#000" stroke-width="1.3"/>
<path d="M46.8,351.10H52.4 M46.8,306.17H52.4 M46.8,261.24H52.4 M46.8,216.31H52.4 M46.8,171.38H52.4 M46.8,126.45H52.4 M46.8,81.52H52.4 M46.8,36.59H52.4 M120.55,368.6V373.90000000000003 M192.55,368.6V373.90000000000003 M264.55,368.6V373.90000000000003 M336.55,368.6V373.90000000000003 M408.55,368.6V373.90000000000003" stroke="#000" stroke-width="1.3" fill="none"/>
<g font-family="Liberation Serif, serif" font-size="16" fill="#000" stroke="#000" stroke-width="0.25">
<text x="41.5" y="357.50" text-anchor="end" textLength="19.3" lengthAdjust="spacingAndGlyphs">0.0</text>
<text x="41.5" y="312.57" text-anchor="end" textLength="19.3" lengthAdjust="spacingAndGlyphs">0.1</text>
<text x="41.5" y="267.64" text-anchor="end" textLength="19.3" lengthAdjust="spacingAndGlyphs">0.2</text>
<text x="41.5" y="222.71" text-anchor="end" textLength="19.3" lengthAdjust="spacingAndGlyphs">0.3</text>
<text x="41.5" y="177.78" text-anchor="end" textLength="19.3" lengthAdjust="spacingAndGlyphs">0.4</text>
<text x="41.5" y="132.85" text-anchor="end" textLength="19.3" lengthAdjust="spacingAndGlyphs">0.5</text>
<text x="41.5" y="87.92" text-anchor="end" textLength="19.3" lengthAdjust="spacingAndGlyphs">0.6</text>
<text x="41.5" y="42.99" text-anchor="end" textLength="19.3" lengthAdjust="spacingAndGlyphs">0.7</text>
<text x="120.55" y="390.9" text-anchor="middle">2</text>
<text x="192.55" y="390.9" text-anchor="middle">4</text>
<text x="264.55" y="390.9" text-anchor="middle">6</text>
<text x="336.55" y="390.9" text-anchor="middle">8</text>
<text x="401.3" y="390.9">10</text>
</g>
<text x="216.4" y="397.5" font-family="Liberation Serif, serif" font-size="17" textLength="23.7" lengthAdjust="spacing" stroke="#000" stroke-width="0.25">T/J</text>
<text transform="translate(11.5,231) rotate(-90)" font-family="Liberation Serif, serif" font-size="16" textLength="94" lengthAdjust="spacingAndGlyphs" stroke="#000" stroke-width="0.25">Drude weight</text>
<path d="M72.5,419.2H94.5" stroke="#ff0000" stroke-width="1.8"/>
<circle cx="83.9" cy="419.2" r="3.0" fill="#ff0000"/>
<g transform="translate(0.00,0.00)" fill="none" stroke="#000" stroke-linecap="round" stroke-linejoin="round"><path d="M109.0,411.1 C109.3,409.8 107.7,409.1 106.6,410.3 C105.4,411.6 105.0,413.8 104.4,416.8 L102.9,424.2 C102.4,426.6 101.7,428.9 100.1,428.9 C99.2,428.9 98.6,428.4 98.8,427.8" stroke-width="1.25"/><path d="M102.0,416.75 H108.1" stroke-width="1.0"/><circle cx="108.9" cy="411.0" r="0.55" fill="#000" stroke-width="0.5"/><circle cx="98.9" cy="427.9" r="0.55" fill="#000" stroke-width="0.5"/></g>
<path d="M117.1,416.9h14.6M117.1,421.3h14.6" stroke="#000" stroke-width="1.0"/>
<text x="138.9" y="424.5" font-family="Liberation Serif, serif" font-size="20.7" stroke="#000" stroke-width="0.2">0.4</text>
<path d="M198.7,416.6H220.7" stroke="#bf00bf" stroke-width="1.8"/>
<circle cx="210.1" cy="416.6" r="3.0" fill="#bf00bf"/>
<g transform="translate(126.95,-2.60)" fill="none" stroke="#000" stroke-linecap="round" stroke-linejoin="round"><path d="M109.0,411.1 C109.3,409.8 107.7,409.1 106.6,410.3 C105.4,411.6 105.0,413.8 104.4,416.8 L102.9,424.2 C102.4,426.6 101.7,428.9 100.1,428.9 C99.2,428.9 98.6,428.4 98.8,427.8" stroke-width="1.25"/><path d="M102.0,416.75 H108.1" stroke-width="1.0"/><circle cx="108.9" cy="411.0" r="0.55" fill="#000" stroke-width="0.5"/><circle cx="98.9" cy="427.9" r="0.55" fill="#000" stroke-width="0.5"/></g>
<path d="M244.04999999999998,414.3h14.6M244.04999999999998,418.70000000000005h14.6" stroke="#000" stroke-width="1.0"/>
<text x="265.475" y="421.90000000000003" font-family="Liberation Serif, serif" font-size="20.7" stroke="#000" stroke-width="0.2">1.0</text>
<path d="M308.7,413.25H330.7" stroke="#0000ff" stroke-width="1.8"/>
<circle cx="320.09999999999997" cy="413.25" r="3.0" fill="#0000ff"/>
<g transform="translate(236.95,-5.95)" fill="none" stroke="#000" stroke-linecap="round" stroke-linejoin="round"><path d="M109.0,411.1 C109.3,409.8 107.7,409.1 106.6,410.3 C105.4,411.6 105.0,413.8 104.4,416.8 L102.9,424.2 C102.4,426.6 101.7,428.9 100.1,428.9 C99.2,428.9 98.6,428.4 98.8,427.8" stroke-width="1.25"/><path d="M102.0,416.75 H108.1" stroke-width="1.0"/><circle cx="108.9" cy="411.0" r="0.55" fill="#000" stroke-width="0.5"/><circle cx="98.9" cy="427.9" r="0.55" fill="#000" stroke-width="0.5"/></g>
<path d="M354.05,410.95h14.6M354.05,415.35h14.6" stroke="#000" stroke-width="1.0"/>
<text x="375.475" y="418.55" font-family="Liberation Serif, serif" font-size="20.7" stroke="#000" stroke-width="0.2">0.6</text>
<rect x="225.6" y="7.3" width="179.70000000000002" height="116.9" fill="#fff" stroke="#000" stroke-width="1.1"/>
<path d="M225.50,13.74 L226.39,15.31 L227.28,16.85 L228.17,18.35 L229.06,19.83 L229.95,21.27 L230.84,22.68 L231.73,24.05 L232.62,25.40 L233.51,26.72 L234.39,28.02 L235.28,29.28 L236.17,30.52 L237.06,31.74 L237.95,32.93 L238.84,34.09 L239.73,35.24 L240.62,36.36 L241.51,37.45 L242.40,38.53 L243.29,39.58 L244.18,40.62 L245.07,41.63 L245.96,42.63 L246.85,43.60 L247.74,44.56 L248.63,45.50 L249.52,46.42 L250.40,47.32 L251.29,48.21 L252.18,49.08 L253.07,49.94 L253.96,50.78 L254.85,51.60 L255.74,52.41 L256.63,53.21 L257.52,53.99 L258.41,54.76 L259.30,55.51 L260.19,56.25 L261.08,56.98 L261.97,57.70 L262.86,58.40 L263.75,59.09 L264.64,59.77 L265.53,60.44 L266.41,61.10 L267.30,61.74 L268.19,62.38 L269.08,63.00 L269.97,63.62 L270.86,64.22 L271.75,64.82 L272.64,65.40 L273.53,65.98 L274.42,66.55 L275.31,67.10 L276.20,67.65 L277.09,68.19 L277.98,68.72 L278.87,69.25 L279.76,69.76 L280.65,70.27 L281.54,70.77 L282.42,71.26 L283.31,71.75 L284.20,72.23 L285.09,72.70 L285.98,73.16 L286.87,73.62 L287.76,74.07 L288.65,74.51 L289.54,74.95 L290.43,75.38 L291.32,75.80 L292.21,76.22 L293.10,76.63 L293.99,77.04 L294.88,77.44 L295.77,77.83 L296.66,78.22 L297.55,78.60 L298.43,78.98 L299.32,79.35 L300.21,79.72 L301.10,80.09 L301.99,80.44 L302.88,80.80 L303.77,81.14 L304.66,81.49 L305.55,81.83 L306.44,82.16 L307.33,82.49 L308.22,82.82 L309.11,83.14 L310.00,83.45 L310.89,83.77 L311.78,84.08 L312.67,84.38 L313.56,84.68 L314.44,84.98 L315.33,85.27 L316.22,85.56 L317.11,85.85 L318.00,86.13 L318.89,86.41 L319.78,86.68 L320.67,86.95 L321.56,87.22 L322.45,87.49 L323.34,87.75 L324.23,88.01 L325.12,88.26 L326.01,88.51 L326.90,88.76 L327.79,89.01 L328.68,89.25 L329.57,89.49 L330.45,89.73 L331.34,89.97 L332.23,90.20 L333.12,90.43 L334.01,90.65 L334.90,90.88 L335.79,91.10 L336.68,91.32 L337.57,91.53 L338.46,91.74 L339.35,91.96 L340.24,92.16 L341.13,92.37 L342.02,92.57 L342.91,92.78 L343.80,92.98 L344.69,93.17 L345.58,93.37 L346.46,93.56 L347.35,93.75 L348.24,93.94 L349.13,94.13 L350.02,94.31 L350.91,94.49 L351.80,94.67 L352.69,94.85 L353.58,95.03 L354.47,95.20 L355.36,95.37 L356.25,95.55 L357.14,95.71 L358.03,95.88 L358.92,96.05 L359.81,96.21 L360.70,96.37 L361.59,96.53 L362.47,96.69 L363.36,96.85 L364.25,97.00 L365.14,97.16 L366.03,97.31 L366.92,97.46 L367.81,97.61 L368.70,97.76 L369.59,97.90 L370.48,98.05 L371.37,98.19 L372.26,98.33 L373.15,98.47 L374.04,98.61 L374.93,98.75 L375.82,98.88 L376.71,99.02 L377.60,99.15 L378.48,99.28 L379.37,99.41 L380.26,99.54 L381.15,99.67 L382.04,99.80 L382.93,99.92 L383.82,100.05 L384.71,100.17 L385.60,100.29 L386.49,100.42 L387.38,100.54 L388.27,100.65 L389.16,100.77 L390.05,100.89 L390.94,101.00 L391.83,101.12 L392.72,101.23 L393.61,101.34 L394.49,101.45 L395.38,101.56 L396.27,101.67 L397.16,101.78 L398.05,101.89 L398.94,102.00 L399.83,102.10 L400.72,102.20 L401.61,102.31 L402.50,102.41" fill="none" stroke="#bf00bf" stroke-width="1.7" stroke-dasharray="6 2.9"/>
<path d="M225.50,86.54 L226.39,87.03 L227.28,87.51 L228.17,87.97 L229.06,88.43 L229.95,88.88 L230.84,89.31 L231.73,89.74 L232.62,90.16 L233.51,90.57 L234.39,90.97 L235.28,91.36 L236.17,91.75 L237.06,92.13 L237.95,92.50 L238.84,92.86 L239.73,93.21 L240.62,93.56 L241.51,93.90 L242.40,94.23 L243.29,94.56 L244.18,94.88 L245.07,95.20 L245.96,95.51 L246.85,95.81 L247.74,96.11 L248.63,96.40 L249.52,96.68 L250.40,96.96 L251.29,97.24 L252.18,97.51 L253.07,97.78 L253.96,98.04 L254.85,98.29 L255.74,98.54 L256.63,98.79 L257.52,99.03 L258.41,99.27 L259.30,99.50 L260.19,99.73 L261.08,99.96 L261.97,100.18 L262.86,100.40 L263.75,100.62 L264.64,100.83 L265.53,101.03 L266.41,101.24 L267.30,101.44 L268.19,101.64 L269.08,101.83 L269.97,102.02 L270.86,102.21 L271.75,102.39 L272.64,102.57 L273.53,102.75 L274.42,102.93 L275.31,103.10 L276.20,103.27 L277.09,103.44 L277.98,103.60 L278.87,103.77 L279.76,103.93 L280.65,104.08 L281.54,104.24 L282.42,104.39 L283.31,104.54 L284.20,104.69 L285.09,104.84 L285.98,104.98 L286.87,105.12 L287.76,105.26 L288.65,105.40 L289.54,105.54 L290.43,105.67 L291.32,105.80 L292.21,105.93 L293.10,106.06 L293.99,106.18 L294.88,106.31 L295.77,106.43 L296.66,106.55 L297.55,106.67 L298.43,106.79 L299.32,106.90 L300.21,107.02 L301.10,107.13 L301.99,107.24 L302.88,107.35 L303.77,107.46 L304.66,107.57 L305.55,107.67 L306.44,107.77 L307.33,107.88 L308.22,107.98 L309.11,108.08 L310.00,108.18 L310.89,108.27 L311.78,108.37 L312.67,108.46 L313.56,108.56 L314.44,108.65 L315.33,108.74 L316.22,108.83 L317.11,108.92 L318.00,109.01 L318.89,109.09 L319.78,109.18 L320.67,109.26 L321.56,109.35 L322.45,109.43 L323.34,109.51 L324.23,109.59 L325.12,109.67 L326.01,109.75 L326.90,109.82 L327.79,109.90 L328.68,109.98 L329.57,110.05 L330.45,110.12 L331.34,110.20 L332.23,110.27 L333.12,110.34 L334.01,110.41 L334.90,110.48 L335.79,110.55 L336.68,110.62 L337.57,110.68 L338.46,110.75 L339.35,110.81 L340.24,110.88 L341.13,110.94 L342.02,111.01 L342.91,111.07 L343.80,111.13 L344.69,111.19 L345.58,111.25 L346.46,111.31 L347.35,111.37 L348.24,111.43 L349.13,111.49 L350.02,111.54 L350.91,111.60 L351.80,111.66 L352.69,111.71 L353.58,111.77 L354.47,111.82 L355.36,111.88 L356.25,111.93 L357.14,111.98 L358.03,112.03 L358.92,112.08 L359.81,112.13 L360.70,112.18 L361.59,112.23 L362.47,112.28 L363.36,112.33 L364.25,112.38 L365.14,112.43 L366.03,112.48 L366.92,112.52 L367.81,112.57 L368.70,112.61 L369.59,112.66 L370.48,112.70 L371.37,112.75 L372.26,112.79 L373.15,112.84 L374.04,112.88 L374.93,112.92 L375.82,112.96 L376.71,113.01 L377.60,113.05 L378.48,113.09 L379.37,113.13 L380.26,113.17 L381.15,113.21 L382.04,113.25 L382.93,113.29 L383.82,113.33 L384.71,113.36 L385.60,113.40 L386.49,113.44 L387.38,113.48 L388.27,113.51 L389.16,113.55 L390.05,113.59 L390.94,113.62 L391.83,113.66 L392.72,113.69 L393.61,113.73 L394.49,113.76 L395.38,113.80 L396.27,113.83 L397.16,113.86 L398.05,113.90 L398.94,113.93 L399.83,113.96 L400.72,113.99 L401.61,114.03 L402.50,114.06" fill="none" stroke="#0000ff" stroke-width="1.7" stroke-dasharray="6 2.9"/>
<path d="M254.11,110.27 L254.86,110.37 L255.61,110.45 L256.35,110.54 L257.10,110.63 L257.84,110.72 L258.59,110.80 L259.33,110.88 L260.08,110.97 L260.83,111.05 L261.57,111.13 L262.32,111.21 L263.06,111.28 L263.81,111.36 L264.55,111.43 L265.30,111.51 L266.05,111.58 L266.79,111.65 L267.54,111.72 L268.28,111.79 L269.03,111.86 L269.77,111.93 L270.52,112.00 L271.27,112.07 L272.01,112.13 L272.76,112.20 L273.50,112.26 L274.25,112.32 L274.99,112.38 L275.74,112.45 L276.48,112.51 L277.23,112.57 L277.98,112.62 L278.72,112.68 L279.47,112.74 L280.21,112.80 L280.96,112.85 L281.70,112.91 L282.45,112.96 L283.20,113.01 L283.94,113.07 L284.69,113.12 L285.43,113.17 L286.18,113.22 L286.92,113.27 L287.67,113.32 L288.42,113.37 L289.16,113.42 L289.91,113.47 L290.65,113.52 L291.40,113.56 L292.14,113.61 L292.89,113.65 L293.63,113.70 L294.38,113.74 L295.13,113.79 L295.87,113.83 L296.62,113.88 L297.36,113.92 L298.11,113.96 L298.85,114.00 L299.60,114.04 L300.35,114.08 L301.09,114.12 L301.84,114.16 L302.58,114.20 L303.33,114.24 L304.07,114.28 L304.82,114.32 L305.57,114.35 L306.31,114.39 L307.06,114.43 L307.80,114.46 L308.55,114.50 L309.29,114.54 L310.04,114.57 L310.78,114.60 L311.53,114.64 L312.28,114.67 L313.02,114.71 L313.77,114.74 L314.51,114.77 L315.26,114.80 L316.00,114.84 L316.75,114.87 L317.50,114.90 L318.24,114.93 L318.99,114.96 L319.73,114.99 L320.48,115.02 L321.22,115.05 L321.97,115.08 L322.72,115.11 L323.46,115.14 L324.21,115.17 L324.95,115.20 L325.70,115.22 L326.44,115.25 L327.19,115.28 L327.93,115.31 L328.68,115.33 L329.43,115.36 L330.17,115.39 L330.92,115.41 L331.66,115.44 L332.41,115.46 L333.15,115.49 L333.90,115.51 L334.65,115.54 L335.39,115.56 L336.14,115.59 L336.88,115.61 L337.63,115.64 L338.37,115.66 L339.12,115.68 L339.87,115.71 L340.61,115.73 L341.36,115.75 L342.10,115.77 L342.85,115.80 L343.59,115.82 L344.34,115.84 L345.08,115.86 L345.83,115.88 L346.58,115.91 L347.32,115.93 L348.07,115.95 L348.81,115.97 L349.56,115.99 L350.30,116.01 L351.05,116.03 L351.80,116.05 L352.54,116.07 L353.29,116.09 L354.03,116.11 L354.78,116.13 L355.52,116.15 L356.27,116.16 L357.02,116.18 L357.76,116.20 L358.51,116.22 L359.25,116.24 L360.00,116.26 L360.74,116.27 L361.49,116.29 L362.23,116.31 L362.98,116.33 L363.73,116.34 L364.47,116.36 L365.22,116.38 L365.96,116.40 L366.71,116.41 L367.45,116.43 L368.20,116.45 L368.95,116.46 L369.69,116.48 L370.44,116.49 L371.18,116.51 L371.93,116.53 L372.67,116.54 L373.42,116.56 L374.17,116.57 L374.91,116.59 L375.66,116.60 L376.40,116.62 L377.15,116.63 L377.89,116.65 L378.64,116.66 L379.38,116.68 L380.13,116.69 L380.88,116.70 L381.62,116.72 L382.37,116.73 L383.11,116.75 L383.86,116.76 L384.60,116.77 L385.35,116.79 L386.10,116.80 L386.84,116.81 L387.59,116.83 L388.33,116.84 L389.08,116.85 L389.82,116.87 L390.57,116.88 L391.32,116.89 L392.06,116.90 L392.81,116.92 L393.55,116.93 L394.30,116.94 L395.04,116.95 L395.79,116.97 L396.53,116.98 L397.28,116.99 L398.03,117.00 L398.77,117.01 L399.52,117.02 L400.26,117.04 L401.01,117.05 L401.75,117.06 L402.50,117.07" fill="none" stroke="#ff0000" stroke-width="1.7" stroke-dasharray="6 2.9"/>
<g fill="#bf00bf"><circle cx="225.50" cy="12.5" r="2.0"/><circle cx="230.42" cy="19.9" r="2.0"/><circle cx="235.76" cy="27.2" r="2.0"/><circle cx="241.59" cy="34.9" r="2.0"/><circle cx="247.98" cy="42" r="2.0"/><circle cx="255.00" cy="49" r="2.0"/><circle cx="262.76" cy="55.2" r="2.0"/><circle cx="271.39" cy="61.7" r="2.0"/><circle cx="281.03" cy="67.5" r="2.0"/><circle cx="291.88" cy="73.7" r="2.0"/><circle cx="304.17" cy="78.9" r="2.0"/><circle cx="318.21" cy="84.3" r="2.0"/><circle cx="334.42" cy="89.1" r="2.0"/><circle cx="353.33" cy="93.4" r="2.0"/><circle cx="375.68" cy="97.7" r="2.0"/><circle cx="402.50" cy="101" r="2.0"/></g>
<g fill="#0000ff"><circle cx="225.50" cy="85.4" r="2.0"/><circle cx="255.00" cy="96.8" r="2.0"/><circle cx="291.88" cy="105.2" r="2.0"/><circle cx="353.33" cy="111.3" r="2.0"/><circle cx="402.50" cy="113.5" r="2.0"/></g>
<g fill="#ff0000"><circle cx="291.88" cy="113.4" r="1.85"/><circle cx="304.17" cy="114.1" r="1.85"/><circle cx="353.33" cy="116" r="1.85"/><circle cx="402.50" cy="117" r="1.85"/></g>
<path d="M255.00,124.2v1.4 M284.50,124.2v2.2 M314.00,124.2v1.4 M343.50,124.2v2.2 M373.00,124.2v1.4 M402.50,124.2v2.2 M223.4,7.3h2.2 M224.4,124.2h1.2" stroke="#000" stroke-width="0.8" fill="none"/>
<g font-family="Liberation Serif, serif" fill="#000">
<text x="193" y="13.1" font-size="15" textLength="29.2" lengthAdjust="spacingAndGlyphs">0.200</text>
<text x="192.8" y="123.9" font-size="15" textLength="29.4" lengthAdjust="spacingAndGlyphs">0.000</text>
<text x="225.0" y="138" font-size="16" text-anchor="middle">4</text>
<text x="283.5" y="138" font-size="16" text-anchor="middle">6</text>
<text x="343.8" y="138" font-size="16" text-anchor="middle">8</text>
<text x="399.8" y="138" font-size="16" text-anchor="middle">10</text>
<text x="303.1" y="145.9" font-size="14" font-style="italic" textLength="20.7" lengthAdjust="spacing">T/J</text>
<text transform="translate(214.2,81.4) rotate(-90)" font-size="13.8">Dr. wt</text>
<text x="309.4" y="41.1" font-size="19.3" textLength="80.7" lengthAdjust="spacingAndGlyphs">high temp.</text>
<text x="254.6" y="22.8" font-size="15" text-anchor="middle">3</text>
<path d="M247.4,25.4H263.7" stroke="#000" stroke-width="0.8"/>
<text x="248" y="38.5" font-size="15" font-style="italic">T</text><text x="258.3" y="33.5" font-size="10">2</text>
<text x="228.3" y="74.7" font-size="12.75" textLength="28.7" lengthAdjust="spacingAndGlyphs">0.931</text>
<path d="M231.2,76.9H254.5" stroke="#000" stroke-width="0.8"/>
<text x="236.6" y="86.6" font-size="10.5" font-style="italic">T</text><text x="243.8" y="83.6" font-size="7.7">2</text>
<text x="226.8" y="107.2" font-size="12.75" textLength="27.7" lengthAdjust="spacingAndGlyphs">0.396</text>
<path d="M228.3,110H252.5" stroke="#000" stroke-width="0.8"/>
<text x="234.4" y="119.8" font-size="10.5" font-style="italic">T</text><text x="241.2" y="116.8" font-size="7.7">2</text>
</g>
<rect x="247.5" y="151.4" width="149.10000000000002" height="145.1" fill="#fff" stroke="#000" stroke-width="1.1"/>
<path d="M253.30,289.96 L253.94,289.97 L254.58,289.99 L255.22,290.00 L255.85,290.00 L256.49,290.00 L257.13,290.00 L257.77,290.00 M271.18,289.98 L271.82,289.97 L272.46,289.95 L273.10,289.93 L273.74,289.91 L274.38,289.89 L275.02,289.87 L275.65,289.85 L276.29,289.82 L276.93,289.80 L277.57,289.77 L278.21,289.74 L278.85,289.71 L279.49,289.67 L280.13,289.64 L280.76,289.60 L281.40,289.57 L282.04,289.53 L282.68,289.49 L283.32,289.45 L283.96,289.40 L284.60,289.36 L285.23,289.31 L285.87,289.26 L286.51,289.21 L287.15,289.16 L287.79,289.10 L288.43,289.05 L289.07,288.99 L289.71,288.93 L290.34,288.87 L290.98,288.80 L291.62,288.74 L292.26,288.67 L292.90,288.60 L293.54,288.53 L294.18,288.46 L294.82,288.38 L295.45,288.31 L296.09,288.23 L296.73,288.15 L297.37,288.06 L298.01,287.98 L298.65,287.89 L299.29,287.80 L299.92,287.71 L300.56,287.62 L301.20,287.52 L301.84,287.42 L302.48,287.32 L303.12,287.22 L303.76,287.11 L304.40,287.01 L305.03,286.90 L305.67,286.79 L306.31,286.67 L306.95,286.56 L307.59,286.44 L308.23,286.32 L308.87,286.19 L309.51,286.07 L310.14,285.94 L310.78,285.81 L311.42,285.68 L312.06,285.54 L312.70,285.40 L313.34,285.26 L313.98,285.12 L314.61,284.98 L315.25,284.83 L315.89,284.69 L316.53,284.54 L317.17,284.39 L317.81,284.24 L318.45,284.08 L319.09,283.93 L319.72,283.77 L320.36,283.61 L321.00,283.45 L321.64,283.29 L322.28,283.12 L322.92,282.96 L323.56,282.79 L324.19,282.63 L324.83,282.46 L325.47,282.29 L326.11,282.12 L326.75,281.95 L327.39,281.77 L328.03,281.60 L328.67,281.43 L329.30,281.25 L329.94,281.07 L330.58,280.90 L331.22,280.72 L331.86,280.54 L332.50,280.36 L333.14,280.18 L333.78,280.00 L334.41,279.82 L335.05,279.64 L335.69,279.46 L336.33,279.28 L336.97,279.10 L337.61,278.92 L338.25,278.74 L338.88,278.55 L339.52,278.37 L340.16,278.19 L340.80,278.01 L341.44,277.83 L342.08,277.64 L342.72,277.46 L343.36,277.28 L343.99,277.10 L344.63,276.92 L345.27,276.74 L345.91,276.56 L346.55,276.38 L347.19,276.20 L347.83,276.02 L348.47,275.85 L349.10,275.67 L349.74,275.49 L350.38,275.32 L351.02,275.14 L351.66,274.97 L352.30,274.80 L352.94,274.62 L353.57,274.45 L354.21,274.28 L354.85,274.11 L355.49,273.94 L356.13,273.78 L356.77,273.61 L357.41,273.45 L358.05,273.28 L358.68,273.12 L359.32,272.96 L359.96,272.80 L360.60,272.64 L361.24,272.48 L361.88,272.32 L362.52,272.16 L363.16,272.01 L363.79,271.86 L364.43,271.71 L365.07,271.56 L365.71,271.41 L366.35,271.26 L366.99,271.11 L367.63,270.97 L368.26,270.83 L368.90,270.68 L369.54,270.54 L370.18,270.41 L370.82,270.27 L371.46,270.14 L372.10,270.00 L372.74,269.87 L373.37,269.74 L374.01,269.61 L374.65,269.49 L375.29,269.37 L375.93,269.24 L376.57,269.12 L377.21,269.00 L377.85,268.89 L378.48,268.77 L379.12,268.66 L379.76,268.55 L380.40,268.44" fill="none" stroke="#ff0000" stroke-width="1.75"/>
<path d="M256.50,289.96 L257.12,289.98 L257.75,289.99 L258.37,290.00 L258.99,290.00 L259.61,290.00 L260.24,290.00 L260.86,290.00 L261.48,290.00 L262.10,290.00 L262.73,290.00 L263.35,290.00 L263.97,290.00 L264.59,290.00 L265.22,290.00 L265.84,290.00 L266.46,290.00 L267.08,290.00 L267.71,290.00 L268.33,290.00 L268.95,289.99 L269.57,289.96 L270.20,289.93 L270.82,289.89 L271.44,289.85 L272.07,289.81 L272.69,289.76 L273.31,289.71 L273.93,289.65 L274.56,289.59 L275.18,289.52 L275.80,289.45 L276.42,289.37 L277.05,289.28 L277.67,289.19 L278.29,289.10 L278.91,289.00 L279.54,288.89 L280.16,288.78 L280.78,288.66 L281.40,288.53 L282.03,288.40 L282.65,288.26 L283.27,288.12 L283.89,287.97 L284.52,287.82 L285.14,287.66 L285.76,287.49 L286.39,287.32 L287.01,287.15 L287.63,286.97 L288.25,286.78 L288.88,286.59 L289.50,286.39 L290.12,286.19 L290.74,285.99 L291.37,285.77 L291.99,285.56 L292.61,285.34 L293.23,285.11 L293.86,284.88 L294.48,284.64 L295.10,284.40 L295.72,284.16 L296.35,283.91 L296.97,283.66 L297.59,283.40 L298.22,283.14 L298.84,282.87 L299.46,282.60 L300.08,282.32 L300.71,282.04 L301.33,281.76 L301.95,281.47 L302.57,281.18 L303.20,280.88 L303.82,280.58 L304.44,280.28 L305.06,279.98 L305.69,279.67 L306.31,279.35 L306.93,279.04 L307.55,278.72 L308.18,278.39 L308.80,278.07 L309.42,277.74 L310.04,277.40 L310.67,277.07 L311.29,276.73 L311.91,276.39 L312.54,276.04 L313.16,275.70 L313.78,275.35 L314.40,275.00 L315.03,274.64 L315.65,274.29 L316.27,273.93 L316.89,273.57 L317.52,273.21 L318.14,272.84 L318.76,272.48 L319.38,272.11 L320.01,271.74 L320.63,271.37 L321.25,270.99 L321.87,270.62 L322.50,270.24 L323.12,269.86 L323.74,269.48 L324.36,269.10 L324.99,268.72 L325.61,268.34 L326.23,267.95 L326.86,267.57 L327.48,267.18 L328.10,266.80 L328.72,266.41 L329.35,266.02 L329.97,265.63 L330.59,265.25 L331.21,264.86 L331.84,264.47 L332.46,264.08 L333.08,263.69 L333.70,263.30 L334.33,262.91 L334.95,262.52 L335.57,262.13 L336.19,261.74 L336.82,261.35 L337.44,260.96 L338.06,260.57 L338.68,260.18 L339.31,259.80 L339.93,259.41 L340.55,259.03 L341.18,258.64 L341.80,258.26 L342.42,257.87 L343.04,257.49 L343.67,257.11 L344.29,256.73 L344.91,256.35 L345.53,255.97 L346.16,255.60 L346.78,255.22 L347.40,254.85 L348.02,254.48 L348.65,254.11 L349.27,253.74 L349.89,253.38 L350.51,253.01 L351.14,252.65 L351.76,252.29 L352.38,251.94 L353.01,251.58 L353.63,251.23 L354.25,250.88 L354.87,250.53 L355.50,250.19 L356.12,249.84 L356.74,249.50 L357.36,249.17 L357.99,248.83 L358.61,248.50 L359.23,248.17 L359.85,247.85 L360.48,247.53 L361.10,247.21 L361.72,246.89 L362.34,246.58 L362.97,246.27 L363.59,245.97 L364.21,245.67 L364.83,245.37 L365.46,245.08 L366.08,244.79 L366.70,244.50 L367.33,244.22 L367.95,243.95 L368.57,243.67 L369.19,243.40 L369.82,243.14 L370.44,242.88 L371.06,242.62 L371.68,242.37 L372.31,242.13 L372.93,241.88 L373.55,241.65 L374.17,241.41 L374.80,241.19 L375.42,240.97 L376.04,240.75 L376.66,240.54 L377.29,240.33 L377.91,240.13 L378.53,239.93 L379.15,239.74 L379.78,239.56 L380.40,239.38" fill="none" stroke="#0000ff" stroke-width="1.75"/>
<path d="M270.90,261.40 L271.50,260.78 L272.10,260.16 L272.69,259.55 L273.29,258.93 L273.89,258.31 L274.49,257.69 L275.09,257.07 L275.68,256.45 L276.28,255.83 L276.88,255.21 L277.48,254.58 L278.08,253.96 L278.67,253.34 L279.27,252.72 L279.87,252.09 L280.47,251.47 L281.07,250.85 L281.66,250.23 L282.26,249.60 L282.86,248.98 L283.46,248.35 L284.06,247.73 L284.65,247.11 L285.25,246.48 L285.85,245.86 L286.45,245.24 L287.05,244.61 L287.64,243.99 L288.24,243.36 L288.84,242.74 L289.44,242.12 L290.04,241.49 L290.63,240.87 L291.23,240.25 L291.83,239.63 L292.43,239.00 L293.03,238.38 L293.62,237.76 L294.22,237.14 L294.82,236.52 L295.42,235.90 L296.02,235.27 L296.61,234.65 L297.21,234.03 L297.81,233.42 L298.41,232.80 L299.01,232.18 L299.60,231.56 L300.20,230.94 L300.80,230.33 L301.40,229.71 L302.00,229.10 L302.59,228.48 L303.19,227.87 L303.79,227.25 L304.39,226.64 L304.99,226.03 L305.58,225.42 L306.18,224.81 L306.78,224.20 L307.38,223.59 L307.98,222.98 L308.57,222.37 L309.17,221.76 L309.77,221.16 L310.37,220.55 L310.97,219.95 L311.56,219.35 L312.16,218.75 L312.76,218.15 L313.36,217.55 L313.96,216.95 L314.55,216.35 L315.15,215.75 L315.75,215.16 L316.35,214.56 L316.95,213.97 L317.54,213.38 L318.14,212.79 L318.74,212.20 L319.34,211.61 L319.94,211.02 L320.53,210.44 L321.13,209.85 L321.73,209.27 L322.33,208.69 L322.93,208.11 L323.52,207.53 L324.12,206.95 L324.72,206.38 L325.32,205.81 L325.92,205.23 L326.51,204.66 L327.11,204.09 L327.71,203.52 L328.31,202.96 L328.91,202.39 L329.50,201.83 L330.10,201.27 L330.70,200.71 L331.30,200.15 L331.89,199.60 L332.49,199.04 L333.09,198.49 L333.69,197.94 L334.29,197.39 L334.88,196.84 L335.48,196.30 L336.08,195.75 L336.68,195.21 L337.28,194.67 L337.87,194.14 L338.47,193.60 L339.07,193.07 L339.67,192.54 L340.27,192.01 L340.86,191.48 L341.46,190.95 L342.06,190.43 L342.66,189.91 L343.26,189.39 L343.85,188.88 L344.45,188.36 L345.05,187.85 L345.65,187.34 L346.25,186.83 L346.84,186.33 L347.44,185.83 L348.04,185.32 L348.64,184.83 L349.24,184.33 L349.83,183.84 L350.43,183.35 L351.03,182.86 L351.63,182.37 L352.23,181.89 L352.82,181.41 L353.42,180.93 L354.02,180.46 L354.62,179.98 L355.22,179.51 L355.81,179.05 L356.41,178.58 L357.01,178.12 L357.61,177.66 L358.21,177.20 L358.80,176.75 L359.40,176.30 L360.00,175.85 L360.60,175.41 L361.20,174.96 L361.79,174.52 L362.39,174.09 L362.99,173.65 L363.59,173.22 L364.19,172.80 L364.78,172.37 L365.38,171.95 L365.98,171.53 L366.58,171.12 L367.18,170.70 L367.77,170.29 L368.37,169.89 L368.97,169.48 L369.57,169.08 L370.17,168.69 L370.76,168.29 L371.36,167.90 L371.96,167.52 L372.56,167.13 L373.16,166.75 L373.75,166.38 L374.35,166.00 L374.95,165.63 L375.55,165.27 L376.15,164.90 L376.74,164.54 L377.34,164.19 L377.94,163.83 L378.54,163.49 L379.14,163.14 L379.73,162.80 L380.33,162.46 L380.93,162.12 L381.53,161.79 L382.13,161.47 L382.72,161.14 L383.32,160.82 L383.92,160.50 L384.52,160.19 L385.12,159.88 L385.71,159.58 L386.31,159.28 L386.91,158.98 L387.51,158.69 L388.11,158.40 L388.70,158.11 L389.30,157.83 L389.90,157.55" fill="none" stroke="#bf00bf" stroke-width="1.75"/>
<path d="M247.5,289.4h-2 M247.5,249.2h-2 M247.5,209.3h-2 M247.5,168.9h-2 M284.9,296.5v2.3 M325.5,296.5v2.3 M366.1,296.5v2.3" stroke="#000" stroke-width="1.0" fill="none"/>
<g font-family="Liberation Serif, serif" fill="#000">
<text x="243.9" y="173.5" font-size="13" text-anchor="end">0.6</text>
<text x="243.3" y="294.4" font-size="13" text-anchor="end">0</text>
<text x="284.9" y="308.8" font-size="11.2" text-anchor="middle" stroke="#000" stroke-width="0.12">0.2</text>
<text x="325.5" y="308.8" font-size="11.2" text-anchor="middle" stroke="#000" stroke-width="0.12">0.4</text>
<text x="366.1" y="308.8" font-size="11.2" text-anchor="middle" stroke="#000" stroke-width="0.12">0.6</text>
<text x="315.4" y="320.4" font-size="10" font-style="italic" textLength="13.4" lengthAdjust="spacingAndGlyphs">T/J</text>
<text transform="translate(237.3,242.8) rotate(-90)" font-size="13.5">Dr. wt</text>
<text x="255" y="180.7" font-size="19.5" textLength="75.9" lengthAdjust="spacingAndGlyphs">low temp.</text>
</g>
</svg></body></html>
